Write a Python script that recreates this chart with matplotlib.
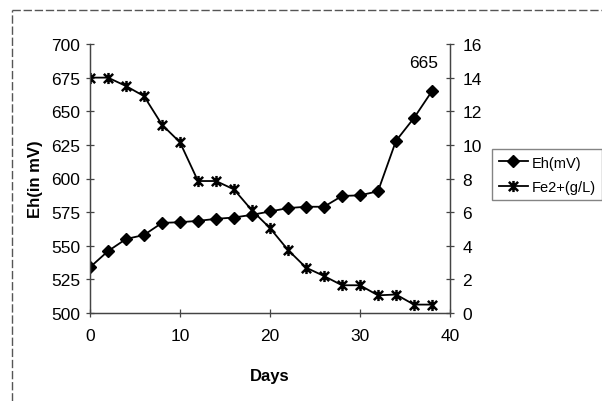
import matplotlib.pyplot as plt
from matplotlib.path import Path
from matplotlib.lines import Line2D

plt.rcParams['font.family'] = ['Liberation Sans', 'DejaVu Sans']

# data #
days = [0, 2, 4, 6, 8, 10, 12, 14, 16, 18, 20, 22, 24, 26, 28, 30, 32, 34, 36, 38]
eh_mv = [534, 546, 555, 558, 567, 567.5, 568.5, 570, 571, 573, 575.5, 578,
         579, 579, 587, 587.5, 590.5, 628, 645, 665]
fe2_gl = [14.0, 14.0, 13.5, 12.9, 11.2, 10.15, 7.85, 7.85, 7.35, 6.1, 5.05, 3.75,
          2.7, 2.2, 1.65, 1.65, 1.05, 1.1, 0.5, 0.5]

eh_ticks = [500, 525, 550, 575, 600, 625, 650, 675, 700]
fe_ticks = [0, 2, 4, 6, 8, 10, 12, 14, 16]
day_ticks = [0, 10, 20, 30, 40]

# excel style star marker: x with a vertical bar
star = Path([(-1, -1), (1, 1), (-1, 1), (1, -1), (0, -1.2), (0, 1.2)],
            [Path.MOVETO, Path.LINETO, Path.MOVETO, Path.LINETO, Path.MOVETO, Path.LINETO])

fig = plt.figure(figsize=(6.02, 4.02), dpi=100)
ax = fig.add_axes([90/602, 1 - 314/402, 360/602, 269/402])
ax2 = ax.twinx()

l1, = ax.plot(days, eh_mv, color='k', lw=1.3, marker='D', ms=6.5, label='Eh(mV)')
l2, = ax2.plot(days, fe2_gl, color='k', lw=1.3, marker=star, ms=8, mew=1.8, label='Fe2+(g/L)')

ax.set_xlim(0, 40)
ax.set_ylim(500, 700)
ax2.set_ylim(0, 16)
ax.set_xticks(day_ticks)
ax.set_yticks(eh_ticks)
ax2.set_yticks(fe_ticks)

for a in (ax, ax2):
	a.spines['top'].set_visible(False)
	for s in ('left', 'right', 'bottom'):
		a.spines[s].set_color('#444444')
		a.spines[s].set_linewidth(0.9)
	a.tick_params(direction='inout', length=6, width=0.9, color='#444444', labelsize=12.5)
ax.tick_params(axis='x', pad=8)
ax.tick_params(axis='y', pad=4)
ax2.tick_params(axis='y', pad=6)

ax.set_xlabel('Days', fontsize=12, fontweight='bold', labelpad=18)
ax.set_ylabel('Eh(in mV)', fontsize=12, fontweight='bold', labelpad=6)

ax.annotate('665', (days[-1], eh_mv[-1]), xytext=(-8, 21), textcoords='offset pixels',
			ha='center', va='bottom', fontsize=12.5)

fig.legend([l1, l2], ['Eh(mV)', 'Fe2+(g/L)'], loc='upper left',
		   bbox_to_anchor=(492/602, 1 - 150/402), fontsize=10.5, frameon=True,
		   fancybox=False, edgecolor='#666666', handlelength=2.0, handletextpad=0.25,
		   borderpad=0.45, labelspacing=0.7, borderaxespad=0)

# dashed outer border of the chart area #
fig.add_artist(Line2D([12/602, 12/602], [0, 1 - 11/402], transform=fig.transFigure,
					  color='#555555', lw=1.0, ls=(0, (6, 2))))
fig.add_artist(Line2D([12/602, 1], [1 - 11/402, 1 - 11/402], transform=fig.transFigure,
					  color='#555555', lw=1.0, ls=(0, (6, 2))))

plt.savefig('out.png', dpi=100)
